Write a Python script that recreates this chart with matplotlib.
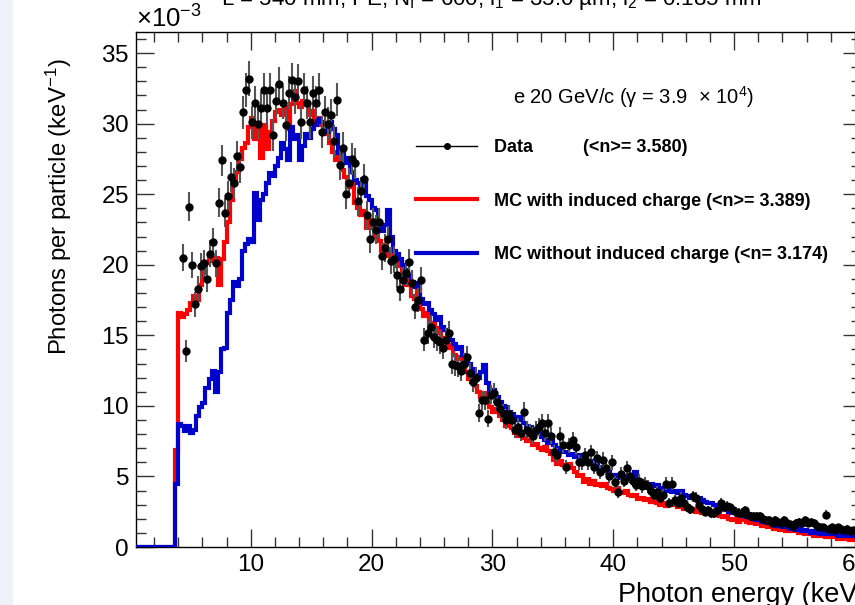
import numpy as np
import matplotlib
matplotlib.use('Agg')
import matplotlib.pyplot as plt
from matplotlib.lines import Line2D
from matplotlib.patches import Rectangle
from matplotlib.ticker import MultipleLocator, ScalarFormatter

plt.rcParams['font.family'] = ['Liberation Sans', 'DejaVu Sans']
plt.rcParams['mathtext.fontset'] = 'custom'
plt.rcParams['mathtext.rm'] = 'Liberation Sans'
plt.rcParams['mathtext.it'] = 'Liberation Sans:italic'
plt.rcParams['mathtext.bf'] = 'Liberation Sans:bold'

# binning (keV)
bin_width = 0.25
e_min, e_max = 0.5, 60.5

# values in units of 1e-3 photons / particle / keV
# MC with induced charge, bins from 0.5 keV (first 13 bins empty)
mc_induced = [0.0] * 13 + [
    6.9,
    16.6, 16.3, 16.5, 16.8, 17.3, 17.8, 17.5, 18.6,
    19.4, 20.1, 20.6, 20.3, 20.5, 18.6, 20.4, 21.6,
    23.0, 24.6, 26.0, 26.6, 27.5, 28.3, 28.6, 29.8,
    30.4, 28.9, 29.6, 27.6, 29.9, 28.2, 29.4, 30.2,
    30.8, 31.0, 30.6, 31.2, 29.6, 31.4, 32.3, 31.5,
    31.2, 31.6, 31.4, 30.6, 30.9, 30.2, 30.4, 29.9,
    29.8, 29.3, 28.6, 28.0, 27.4, 27.8, 26.7, 26.2,
    25.5, 25.9, 24.4, 24.0, 23.5, 23.8, 22.6, 23.2,
    22.6, 22.0, 21.7, 21.0, 21.4, 20.6, 20.9, 20.2,
    19.9, 20.3, 19.1, 18.6, 19.0, 17.8, 17.6, 18.2,
    16.9, 16.4, 16.6, 15.9, 15.8, 15.2, 15.5, 14.8,
    14.5, 14.1, 14.3, 13.6, 13.3, 13.5, 12.8, 12.4,
    11.9, 12.2, 11.4, 11.0, 10.6, 10.9, 10.2, 9.9,
    9.6, 9.8, 9.3, 9.0, 8.6, 8.8, 8.4, 8.1,
    7.9, 8.1, 7.7, 7.5, 7.6, 7.2, 7.3, 7.0,
    6.9, 7.1, 6.8, 6.6, 6.2, 5.9, 6.1, 5.8,
    5.7, 5.9, 5.6, 5.3, 5.0, 5.1, 4.6, 4.8,
    4.5, 4.7, 4.4, 4.5, 4.3, 4.5, 4.2, 4.1,
    4.0, 4.2, 3.9, 3.8, 4.0, 3.7, 3.6, 3.7,
    3.4, 3.5, 3.3, 3.4, 3.2, 3.3, 3.1, 3.0,
    3.1, 2.9, 3.0, 3.2, 3.0, 2.8, 2.9, 2.7,
    2.8, 2.6, 2.7, 2.5, 2.6, 2.4, 2.5, 2.6,
    2.4, 2.3, 2.4, 2.2, 2.1, 2.2, 2.0, 1.9,
    2.0, 1.8, 1.9, 1.9, 1.8, 1.7, 1.8, 1.6,
    1.7, 1.5, 1.6, 1.4, 1.5, 1.3, 1.4, 1.2,
    1.3, 1.1, 1.2, 1.1, 1.2, 1.0, 1.1, 0.9,
    1.0, 0.9, 0.8, 0.9, 0.8, 0.9, 0.7, 0.8,
    0.7, 0.8, 0.6, 0.7, 0.6, 0.7, 0.5, 0.6,
    0.5, 0.5,
]

# MC without induced charge
mc_no_induced = [0.0] * 13 + [
    4.5,
    8.7, 8.6, 8.2, 8.6, 8.1, 8.3, 9.3, 9.9,
    10.2, 11.3, 11.9, 12.5, 11.0, 12.4, 14.0, 14.1,
    16.6, 17.5, 18.8, 18.5, 19.0, 21.0, 21.5, 21.8,
    21.6, 25.1, 23.2, 24.6, 25.0, 25.8, 26.5, 26.3,
    27.0, 27.6, 28.6, 28.2, 27.4, 29.8, 28.9, 29.2,
    27.4, 28.4, 29.3, 29.0, 29.6, 29.9, 30.3, 30.1,
    30.0, 29.4, 30.1, 29.6, 29.2, 27.9, 28.3, 27.2,
    27.6, 26.6, 26.0, 25.8, 25.4, 25.8, 24.9, 24.6,
    24.0, 23.9, 23.0, 22.4, 22.8, 23.9, 22.0, 21.0,
    20.8, 20.4, 20.0, 19.6, 19.2, 18.8, 18.4, 18.7,
    17.6, 17.2, 17.3, 16.8, 16.5, 16.1, 16.3, 15.6,
    15.4, 15.2, 14.7, 14.4, 14.0, 14.2, 13.6, 13.2,
    13.0, 12.6, 12.2, 12.0, 12.4, 12.9, 11.6, 11.0,
    11.1, 10.6, 10.3, 10.0, 9.9, 9.6, 9.4, 9.2,
    9.0, 9.2, 8.8, 8.6, 8.5, 8.3, 8.1, 8.3,
    7.8, 7.6, 7.4, 7.5, 7.2, 6.9, 7.0, 6.7,
    6.7, 6.5, 6.6, 6.4, 6.5, 6.2, 6.3, 6.0,
    5.9, 6.1, 6.0, 5.7, 5.6, 5.4, 5.3, 5.1,
    5.0, 5.1, 4.9, 5.0, 4.8, 4.9, 4.7, 5.3,
    4.6, 4.7, 4.5, 4.4, 4.5, 4.3, 4.4, 4.2,
    4.1, 4.0, 4.2, 3.9, 4.0, 3.8, 4.0, 3.7,
    3.6, 3.5, 3.6, 3.4, 3.5, 3.3, 3.2, 3.1,
    3.1, 3.0, 2.9, 2.8, 2.7, 2.6, 2.5, 2.4,
    2.4, 2.3, 2.2, 2.3, 2.1, 2.2, 2.0, 1.9,
    2.0, 1.8, 1.8, 1.7, 1.7, 1.6, 1.5, 1.6,
    1.4, 1.5, 1.3, 1.3, 1.2, 1.3, 1.1, 1.2,
    1.1, 1.0, 1.1, 1.0, 0.9, 1.0, 0.9, 1.0,
    0.9, 0.9, 0.8, 0.9, 0.8, 0.9, 0.8, 0.8,
    0.8, 0.8,
]

# measured data, first point in the bin starting at 4.25 keV
data_val = [np.nan] * 15 + [
    20.5, 13.9, 24.1, 20.0, 17.2, 18.3, 19.9, 20.1,
    19.0, 20.8, 21.6, 20.1, 24.4, 27.4, 23.7, 24.9,
    26.2, 25.8, 27.7, 26.9, 30.8, 32.4, 33.2, 30.1,
    31.5, 30.0, 31.1, 32.4, 31.1, 32.4, 29.2, 31.6,
    32.8, 31.5, 29.9, 32.2, 33.1, 31.9, 33.0, 30.1,
    32.4, 31.5, 30.1, 32.2, 31.5, 32.4, 29.4, 30.8,
    30.0, 30.6, 28.8, 31.7, 27.1, 28.3, 25.0, 25.8,
    27.5, 27.2, 24.5, 25.2, 26.1, 23.5, 21.8, 23.0,
    22.5, 23.0, 20.6, 21.2, 21.8, 20.3, 20.4, 19.3,
    18.3, 18.9, 19.4, 20.2, 18.7, 17.0, 17.5, 18.9,
    14.7, 15.2, 15.6, 14.9, 14.7, 14.5, 14.1, 14.7,
    15.2, 13.0, 12.9, 12.8, 12.5, 13.0, 13.5, 12.3,
    11.7, 12.0, 9.5, 10.4, 10.4, 9.1, 10.8, 10.9,
    10.3, 9.8, 9.5, 9.0, 9.4, 9.0, 8.3, 8.5,
    8.1, 9.6, 8.3, 8.1, 7.9, 8.3, 8.5, 8.8,
    8.1, 8.8, 7.9, 6.7, 6.5, 7.9, 7.2, 5.7,
    7.2, 7.6, 7.1, 6.0, 6.0, 6.5, 6.0, 6.7,
    5.7, 6.3, 5.3, 6.2, 5.6, 5.0, 6.0, 4.6,
    3.9, 5.2, 4.7, 5.6, 5.0, 4.7, 4.4, 4.7,
    4.3, 4.5, 4.3, 4.0, 3.7, 3.9, 3.5, 3.7,
    4.5, 3.1, 4.5, 3.3, 3.1, 3.5, 3.1, 2.8,
    2.7, 3.6, 3.5, 3.0, 2.7, 2.5, 2.6, 2.4,
    2.4, 2.6, 3.1, 2.8, 2.9, 2.8, 2.6, 2.5,
    2.4, 2.4, 2.6, 2.3, 2.2, 2.2, 2.2, 2.2,
    2.0, 1.9, 1.9, 1.7, 1.9, 1.8, 1.7, 1.9,
    1.7, 1.6, 1.5, 1.7, 1.8, 1.7, 1.9, 1.7,
    1.8, 1.7, 1.5, 1.4, 1.4, 2.3, 1.3, 1.4,
    1.2, 1.4, 1.3, 1.2, 1.3, 1.1, 1.2, 1.2,
    1.1,
]

data_err = [np.nan] * 15 + [
    0.95, 0.78, 1.03, 0.94, 0.87, 0.90, 0.94, 0.94,
    0.92, 0.96, 0.98, 0.94, 1.04, 1.10, 1.02, 1.05,
    1.07, 1.07, 1.11, 1.09, 1.17, 1.20, 1.21, 1.15,
    1.18, 1.15, 1.17, 1.20, 1.17, 1.20, 1.13, 1.18,
    1.20, 1.18, 1.15, 1.19, 1.21, 1.19, 1.21, 1.15,
    1.20, 1.18, 1.15, 1.19, 1.18, 1.20, 1.14, 1.17,
    1.15, 1.16, 1.13, 1.18, 1.09, 1.12, 1.05, 1.07,
    1.10, 1.10, 1.04, 1.05, 1.07, 1.02, 0.98, 1.01,
    1.00, 1.01, 0.95, 0.97, 0.98, 0.95, 0.95, 0.92,
    0.90, 0.91, 0.92, 0.94, 0.91, 0.87, 0.88, 0.91,
    0.81, 0.82, 0.83, 0.81, 0.81, 0.80, 0.79, 0.81,
    0.82, 0.76, 0.75, 0.75, 0.74, 0.76, 0.77, 0.74,
    0.72, 0.73, 0.65, 0.68, 0.68, 0.63, 0.69, 0.69,
    0.67, 0.66, 0.65, 0.63, 0.64, 0.63, 0.60, 0.61,
    0.60, 0.65, 0.60, 0.60, 0.59, 0.60, 0.61, 0.62,
    0.60, 0.62, 0.59, 0.54, 0.54, 0.59, 0.56, 0.50,
    0.56, 0.58, 0.56, 0.51, 0.51, 0.54, 0.51, 0.54,
    0.50, 0.53, 0.48, 0.52, 0.50, 0.47, 0.51, 0.45,
    0.41, 0.48, 0.46, 0.50, 0.47, 0.46, 0.44, 0.46,
    0.44, 0.45, 0.44, 0.42, 0.40, 0.41, 0.39, 0.40,
    0.45, 0.37, 0.45, 0.38, 0.37, 0.39, 0.37, 0.35,
    0.35, 0.40, 0.39, 0.36, 0.35, 0.33, 0.34, 0.33,
    0.33, 0.34, 0.37, 0.35, 0.36, 0.35, 0.34, 0.33,
    0.33, 0.33, 0.34, 0.32, 0.31, 0.31, 0.31, 0.31,
    0.30, 0.29, 0.29, 0.27, 0.29, 0.28, 0.27, 0.29,
    0.27, 0.27, 0.26, 0.27, 0.28, 0.27, 0.29, 0.27,
    0.28, 0.27, 0.26, 0.25, 0.25, 0.32, 0.24, 0.25,
    0.23, 0.25, 0.24, 0.23, 0.24, 0.22, 0.23, 0.23,
    0.22,
]

labels = ['Data          (<n>= 3.580)',
          'MC with induced charge (<n>= 3.389)',
          'MC without induced charge (<n= 3.174)']
beam_text = 'e 20 GeV/c (γ = 3.9  × 10$^{4}$)'
title = (r'L = 540 mm, PE, N$_{\mathrm{f}}$ = 600, l$_{\mathrm{1}}$ = 35.0 µm, '
         r'l$_{\mathrm{2}}$ = 0.185 mm')

scale = 1e-3
edges = np.arange(e_min, e_max + bin_width / 2, bin_width)
centers = 0.5 * (edges[:-1] + edges[1:])

fig = plt.figure(figsize=(8.55, 6.05), dpi=100)
fig.patches.append(Rectangle((0, 0), 12 / 855, 1, transform=fig.transFigure,
                             color='#f0f1f8', zorder=-1))
ax = fig.add_axes([136 / 855, 58 / 605, 725 / 855, 515 / 605])

ax.stairs(np.array(mc_induced) * scale, edges, color='#ff0000', lw=3, baseline=None, zorder=2)
ax.stairs(np.array(mc_no_induced) * scale, edges, color='#0000cc', lw=3, baseline=None, zorder=3)
ax.errorbar(centers, np.array(data_val) * scale, yerr=np.array(data_err) * scale,
            fmt='o', color='black', ms=5, ecolor='#555555', elinewidth=1.5,
            capsize=0, zorder=4)

ax.set_xlim(e_min, e_max)
ax.set_ylim(0, 36.5 * scale)
ax.xaxis.set_major_locator(MultipleLocator(10))
ax.xaxis.set_minor_locator(MultipleLocator(2))
ax.yaxis.set_major_locator(MultipleLocator(5 * scale))
ax.yaxis.set_minor_locator(MultipleLocator(1 * scale))
fmt = ScalarFormatter(useMathText=True)
fmt.set_powerlimits((-3, -3))
ax.yaxis.set_major_formatter(fmt)
ax.yaxis.get_offset_text().set_fontsize(18.5)

ax.tick_params(which='both', direction='in', top=True, right=True,
               labelsize=17.5, width=1.0, color='#333333')
ax.tick_params(which='major', length=13)
ax.tick_params(which='minor', length=7)
ax.tick_params(axis='y', pad=5)
ax.tick_params(axis='x', pad=5)
for s in ax.spines.values():
    s.set_linewidth(1.0)

ax.set_ylabel('Photons per particle (keV$^{-1}$)', fontsize=17.2)
ax.yaxis.set_label_coords(-0.085, 0.66)
ax.set_xlabel('Photon energy (keV)', fontsize=19.5, ha='left')
ax.xaxis.set_label_coords(0.665, -0.068)

fig.text(0.575, 1 - 5 / 605, title, fontsize=16, ha='center', va='baseline')
fig.text(513 / 855, 1 - 104 / 605, beam_text, fontsize=14.5, ha='left', va='baseline')

handles = [Line2D([], [], color='black', lw=1, marker='o', ms=4),
           Line2D([], [], color='#ff0000', lw=3),
           Line2D([], [], color='#0000cc', lw=3)]
ax.legend(handles, labels, loc='upper left', bbox_to_anchor=(416 / 855, 1 - 139 / 605),
          bbox_transform=fig.transFigure, frameon=False,
          prop={'weight': 'bold', 'size': 13}, handlelength=3.4,
          handletextpad=0.9, labelspacing=2.03, borderaxespad=0, borderpad=0)

fig.savefig('out.png', dpi=100)
